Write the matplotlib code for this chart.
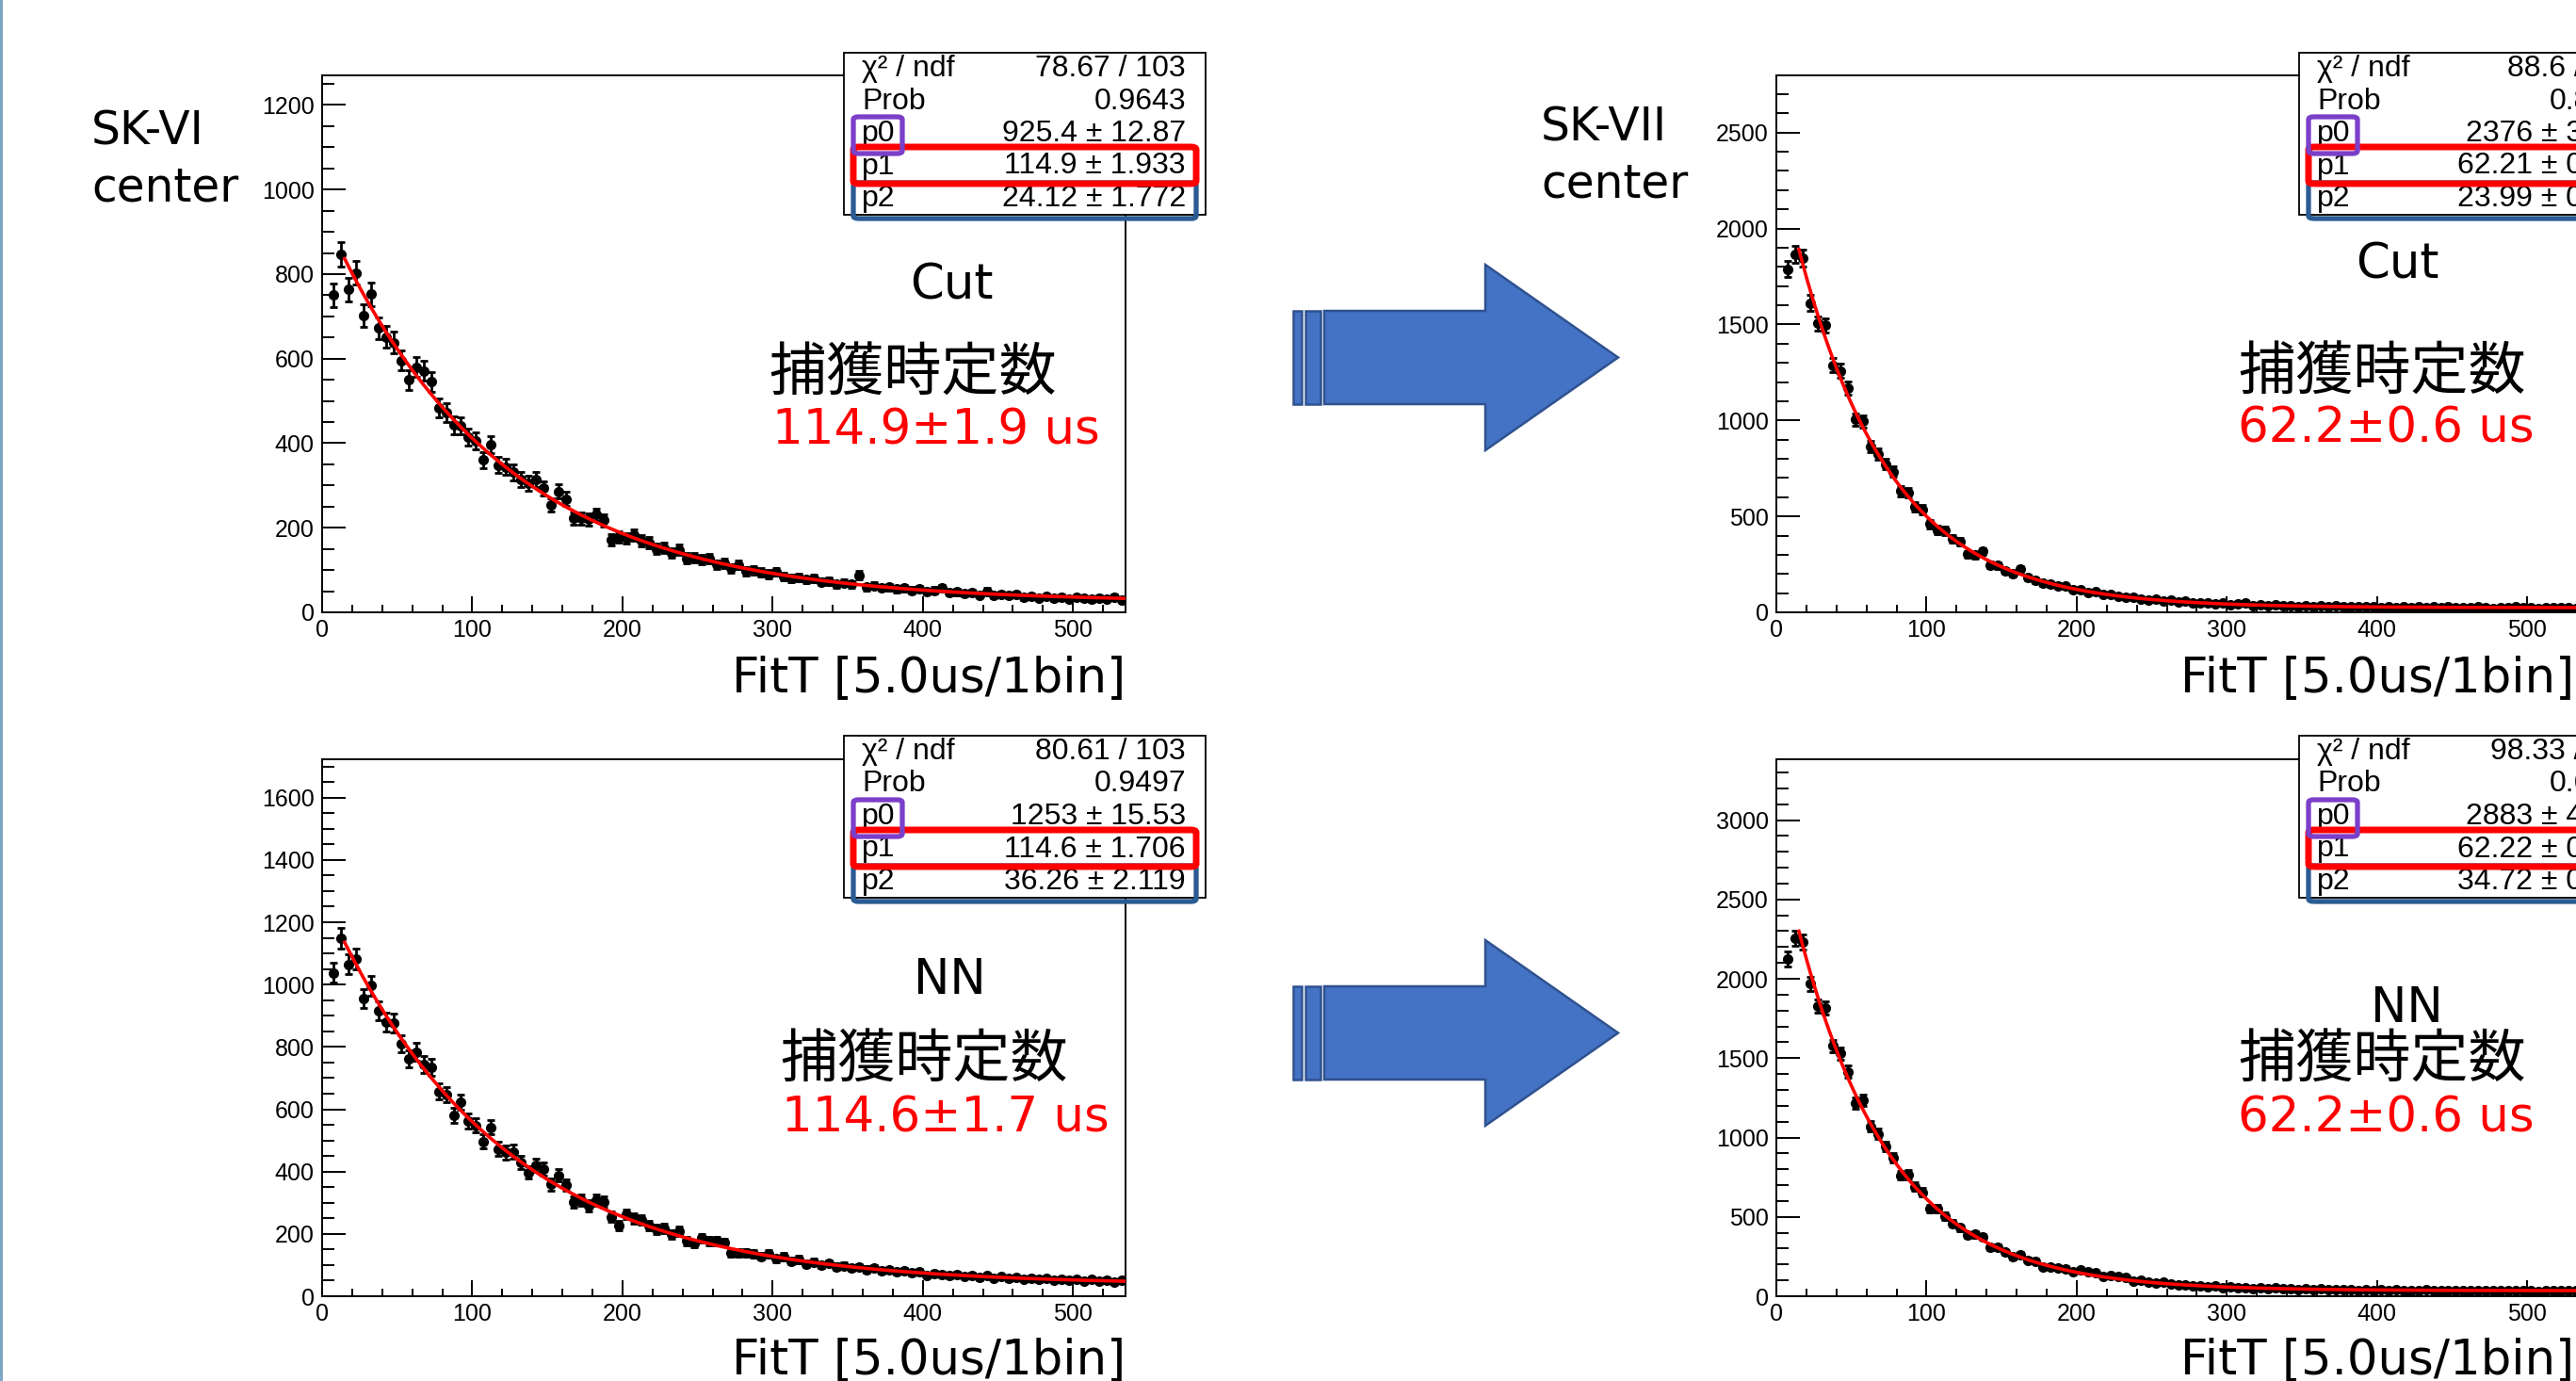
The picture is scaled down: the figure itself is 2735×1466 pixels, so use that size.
import numpy as np
import matplotlib
matplotlib.use("Agg")
import matplotlib.pyplot as plt
from matplotlib.patches import Rectangle, FancyBboxPatch, Polygon
from matplotlib.ticker import MultipleLocator

# ---------------- data ----------------
bin_edges = np.arange(5, 540, 5)          # 5 ... 535  (5.0 us / bin)
bin_centers = 0.5 * (bin_edges[:-1] + bin_edges[1:])

counts_sk6_cut = [750, 847, 764, 803, 702, 752, 672, 651, 638, 596,
                  550, 580, 571, 545, 484, 472, 443, 441, 415, 406,
                  360, 397, 348, 344, 331, 314, 305, 314, 293, 254,
                  286, 268, 222, 222, 220, 231, 218, 172,
                  178, 175, 183, 170, 165, 150, 152, 140, 148, 128,
                  130, 124, 127, 113, 116, 104, 112, 97, 100, 94,
                  90, 96, 85, 80, 83, 77, 80, 72, 74, 66,
                  70, 66, 88, 60, 63, 58, 60, 55, 57, 52,
                  56, 49, 52, 58, 46, 48, 44, 47, 41, 50,
                  40, 43, 39, 42, 36, 38, 34, 37, 33, 36,
                  32, 35, 33, 31, 34, 32, 36, 30]

counts_sk6_nn = [1038, 1149, 1065, 1083, 955, 997, 915, 880, 877, 810,
                 762, 784, 745, 735, 657, 647, 580, 623, 563, 548,
                 497, 542, 473, 461, 464, 430, 397, 421, 408, 359,
                 387, 357, 303, 309, 290, 309, 303, 255, 226, 263,
                 250, 245, 228, 214, 218, 198, 209, 177, 169, 186,
                 177, 177, 172, 140, 140, 140, 137,
                 128, 135, 120, 127, 112, 118, 104, 110, 100, 106,
                 95, 98, 90, 93, 86, 90, 82, 85, 78, 83,
                 75, 78, 68, 74, 70, 66, 71, 64, 67, 60,
                 65, 58, 62, 57, 60, 55, 58, 53, 57, 52,
                 55, 50, 54, 49, 53, 48, 52, 46, 50]

counts_sk7_cut = [1788, 1865, 1845, 1612, 1505, 1495, 1288, 1258, 1167, 1005,
                  995, 864, 823, 773, 732, 631, 625, 550, 536, 459,
                  429, 425, 384, 368, 303, 297, 318, 247, 243, 216,
                  202, 227, 182, 166, 152, 146,
                  138, 135, 120, 118, 104, 106, 92, 95, 84, 78,
                  80, 70, 66, 70, 60, 62, 54, 57, 50, 48,
                  50, 44, 47, 40, 42, 48, 36, 38, 35, 37,
                  33, 35, 31, 34, 30, 32, 29, 33, 28, 30,
                  27, 31, 28, 26, 29, 25, 28, 26, 30, 24,
                  27, 25, 28, 24, 26, 23, 27, 25, 22, 26,
                  24, 27, 23, 25, 22, 26, 24, 23, 25, 22]

counts_sk7_nn = [2124, 2255, 2230, 1970, 1829, 1815, 1576, 1530, 1414, 1218,
                 1235, 1071, 1022, 944, 875, 761, 765, 691, 655, 550,
                 554, 506, 459, 432, 386, 390, 375, 306, 306, 276,
                 249, 263, 228, 221, 185, 185, 179, 175, 154, 164,
                 154, 148, 122, 133, 122, 116, 95, 101, 91, 86, 91,
                 80, 72, 74, 66, 68, 60, 64, 56, 60, 52,
                 56, 50, 54, 47, 51, 45, 49, 43, 47, 42,
                 45, 40, 44, 39, 42, 38, 41, 37, 40, 36,
                 41, 35, 38, 36, 39, 34, 37, 35, 38, 33,
                 36, 34, 37, 33, 36, 34, 38, 33, 35, 32,
                 36, 34, 37, 33, 35]

# fit parameters p0*exp(-t/p1)+p2
fit_sk6_cut = (925.4, 114.9, 24.12)
fit_sk6_nn = (1253.0, 114.6, 36.26)
fit_sk7_cut = (2376.0, 62.21, 23.99)
fit_sk7_nn = (2883.0, 62.22, 34.72)

stat_labels = ["χ² / ndf", "Prob", "p0", "p1", "p2"]
stats_sk6_cut = ["78.67 / 103", "0.9643", "925.4 ± 12.87", "114.9 ± 1.933", "24.12 ± 1.772"]
stats_sk6_nn = ["80.61 / 103", "0.9497", "1253 ± 15.53", "114.6 ± 1.706", "36.26 ± 2.119"]
stats_sk7_cut = ["88.6 / 103", "0.8434", "2376 ± 35.21", "62.21 ± 0.634", "23.99 ± 0.573"]
stats_sk7_nn = ["98.33 / 103", "0.6057", "2883 ± 41.35", "62.22 ± 0.578", "34.72 ± 0.712"]

tau_sk6_cut = "114.9±1.9 us"
tau_sk6_nn = "114.6±1.7 us"
tau_sk7_cut = "62.2±0.6 us"
tau_sk7_nn = "62.2±0.6 us"

period_sk6 = ["SK-VI", "center"]
period_sk7 = ["SK-VII", "center"]
method_labels = ["Cut", "NN"]
tau_title = "捕獲時定数"
x_title = "FitT [5.0us/1bin]"

# ---------------- figure ----------------
W, H = 2735, 1466
DPI = 100
fig = plt.figure(figsize=(W / DPI, H / DPI), dpi=DPI)
fig.patch.set_facecolor("white")

BIG = ["DejaVu Sans", "Noto Sans CJK JP"]
CJK = ["Noto Sans CJK JP", "DejaVu Sans"]
ROOTF = ["Liberation Sans", "DejaVu Sans"]


def fx(x):
    return x / W


def fy(y):
    return 1 - y / H


def ftext(x, y, s, **kw):
    kw.setdefault("family", BIG)
    kw.setdefault("fontsize", 37)
    kw.setdefault("zorder", 6)
    fig.text(fx(x), fy(y), s, **kw)


def make_axes(l, t, r, b):
    return fig.add_axes([fx(l), fy(b), (r - l) / W, (b - t) / H])


def draw_hist(ax, counts, fit, ymax, ymaj, ymin):
    c = np.asarray(counts, dtype=float)
    ax.errorbar(bin_centers, c, xerr=2.5, fmt="none", ecolor="black",
                elinewidth=2.2, zorder=2)
    ax.errorbar(bin_centers, c, yerr=np.sqrt(c), fmt="o", ms=7,
                color="black", ecolor="black", elinewidth=2.0,
                capsize=3.0, capthick=2.0, zorder=3)
    xf = np.linspace(15, 535, 400)
    ax.plot(xf, fit[0] * np.exp(-xf / fit[1]) + fit[2], color="red", lw=2.6, zorder=4)
    ax.set_xlim(0, 535)
    ax.set_ylim(0, ymax)
    ax.xaxis.set_major_locator(MultipleLocator(100))
    ax.xaxis.set_minor_locator(MultipleLocator(20))
    ax.yaxis.set_major_locator(MultipleLocator(ymaj))
    ax.yaxis.set_minor_locator(MultipleLocator(ymin))
    ax.tick_params(axis="y", which="major", direction="in", length=18, width=1.4, pad=6,
                   labelsize=18)
    ax.tick_params(axis="y", which="minor", direction="in", length=9, width=1.4)
    ax.tick_params(axis="x", which="major", direction="in", length=12, width=1.4, pad=5,
                   labelsize=18)
    ax.tick_params(axis="x", which="minor", direction="in", length=6, width=1.4)
    for lab in ax.get_xticklabels() + ax.get_yticklabels():
        lab.set_family(ROOTF)
    for sp in ax.spines.values():
        sp.set_linewidth(1.4)
        sp.set_color("black")


def stats_box(L, T, values):
    Wb, Hb = 384, 172
    fig.add_artist(Rectangle((fx(L), fy(T + Hb)), Wb / W, Hb / H, transform=fig.transFigure,
                             facecolor="white", edgecolor="black", lw=1.3, zorder=5))
    for i, (lab, val) in enumerate(zip(stat_labels, values)):
        yc = T + 17 + 34.5 * i
        fig.text(fx(L + 19), fy(yc), lab, ha="left", va="center", fontsize=23,
                 family=ROOTF, zorder=6)
        fig.text(fx(L + 363), fy(yc), val, ha="right", va="center", fontsize=23,
                 family=ROOTF, zorder=6)
    hl = [((L + 10, T + 138, L + 374, T + 176), "#2A5B93", 3.8),
          ((L + 10, T + 100, L + 374, T + 139), "#FF0000", 5.0),
          ((L + 10, T + 68, L + 62, T + 107), "#7B3FC9", 3.8)]
    for (l, t, r, b), col, lw in hl:
        fig.add_artist(FancyBboxPatch((fx(l), fy(b)), (r - l) / W, (b - t) / H,
                                      boxstyle="round,pad=0,rounding_size=0.002",
                                      transform=fig.transFigure, facecolor="none",
                                      edgecolor=col, lw=lw, zorder=7))


def block_arrow(dy):
    fill, edge = "#4472C4", "#2F528F"
    pts = [(1406, 330), (1577, 330), (1577, 281), (1718, 379.5), (1577, 478),
           (1577, 429), (1406, 429)]
    fig.add_artist(Polygon([(fx(x), fy(y + dy)) for x, y in pts], closed=True,
                           transform=fig.transFigure, facecolor=fill, edgecolor=edge,
                           lw=1.8, zorder=5))
    for l, r in [(1373, 1382), (1386, 1402)]:
        fig.add_artist(Rectangle((fx(l), fy(429 + dy)), (r - l) / W, 99 / H,
                                 transform=fig.transFigure, facecolor=fill,
                                 edgecolor=edge, lw=1.8, zorder=5))


# left accent bar
fig.add_artist(Rectangle((0, 0), 3 / W, 1, transform=fig.transFigure,
                         facecolor="#7DA6C3", edgecolor="none", zorder=1))

# panels
panels = [
    dict(rect=(342, 80, 1195, 650), counts=counts_sk6_cut, fit=fit_sk6_cut, ymax=1270,
         ymaj=200, ymin=50, box=(896, 56), stats=stats_sk6_cut),
    dict(rect=(342, 806, 1195, 1376), counts=counts_sk6_nn, fit=fit_sk6_nn, ymax=1723,
         ymaj=200, ymin=50, box=(896, 781), stats=stats_sk6_nn),
    dict(rect=(1886, 80, 2739, 650), counts=counts_sk7_cut, fit=fit_sk7_cut, ymax=2798,
         ymaj=500, ymin=100, box=(2441, 56), stats=stats_sk7_cut),
    dict(rect=(1886, 806, 2739, 1376), counts=counts_sk7_nn, fit=fit_sk7_nn, ymax=3383,
         ymaj=500, ymin=100, box=(2441, 781), stats=stats_sk7_nn),
]
for p in panels:
    ax = make_axes(*p["rect"])
    draw_hist(ax, p["counts"], p["fit"], p["ymax"], p["ymaj"], p["ymin"])
    stats_box(p["box"][0], p["box"][1], p["stats"])

# slide texts
ftext(97, 153, period_sk6[0], ha="left", va="baseline", fontsize=35)
ftext(97, 213, period_sk6[1], ha="left", va="baseline", fontsize=35)
ftext(1636, 150, period_sk7[0], ha="left", va="baseline", fontsize=35)
ftext(1636, 210, period_sk7[1], ha="left", va="baseline", fontsize=35)

ftext(1010, 318, method_labels[0], ha="center", va="baseline")
ftext(2545, 296, method_labels[0], ha="center", va="baseline")
ftext(1008, 1055, method_labels[1], ha="center", va="baseline")
ftext(2555, 1085, method_labels[1], ha="center", va="baseline")

ftext(816, 414, tau_title, ha="left", va="baseline", family=CJK, fontsize=44)
ftext(820, 472, tau_sk6_cut, ha="left", va="baseline", color="red")
ftext(828, 1143, tau_title, ha="left", va="baseline", family=CJK, fontsize=44)
ftext(830, 1201, tau_sk6_nn, ha="left", va="baseline", color="red")
ftext(2376, 413, tau_title, ha="left", va="baseline", family=CJK, fontsize=44)
ftext(2376, 469, tau_sk7_cut, ha="left", va="baseline", color="red")
ftext(2376, 1143, tau_title, ha="left", va="baseline", family=CJK, fontsize=44)
ftext(2376, 1201, tau_sk7_nn, ha="left", va="baseline", color="red")

ftext(1195, 720, x_title, ha="right", va="center")
ftext(1195, 1444, x_title, ha="right", va="center")
ftext(2733, 720, x_title, ha="right", va="center")
ftext(2733, 1444, x_title, ha="right", va="center")

block_arrow(0)
block_arrow(717)

fig.savefig("out.png", dpi=DPI, facecolor="white")
